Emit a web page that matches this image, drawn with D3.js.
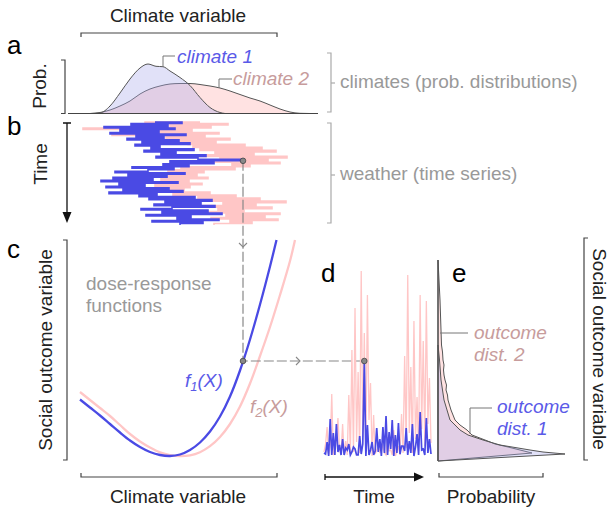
<!DOCTYPE html>
<html>
<head>
<meta charset="utf-8">
<script src="https://cdn.jsdelivr.net/npm/d3@7"></script>
<style>
body { margin:0; background:#fff; }
text { font-family:'Liberation Sans', Arial, Helvetica, sans-serif; }
</style>
</head>
<body>
<svg id="chart" width="611" height="510"></svg>
<script>
// ---- data (arbitrary units) ----

// a: climate distributions (climate variable -> probability)
var clim1X = [1, 2, 3, 4, 5, 6, 6.8, 7.6, 8.3, 9, 10, 11, 12, 13, 14, 14.5]
var clim1P = [0, 0.05, 0.75, 2.05, 3.45, 4.55, 4.95, 4.72, 4.68, 4.25, 3.6, 2.8, 1.6, 0.6, 0.1, 0]
var clim2X = [1, 2, 3, 4, 5, 6, 7, 8, 9, 10, 11, 12, 13, 14, 15, 16, 17, 18, 19, 20, 21, 22, 23]
var clim2P = [0, 0.1, 0.35, 0.75, 1.25, 1.95, 2.45, 2.75, 2.95, 3.0, 3.0, 2.9, 2.75, 2.55, 2.25, 1.9, 1.55, 1.25, 0.85, 0.45, 0.15, 0.02, 0]

// b: weather time series (climate variable at each time step)
var weather1 = [7.5, 10.2, 5.1, 8.8, 2.4, 9.5, 4.0, 7.9, 3.0, 10.6,
	5.6, 8.4, 4.7, 9.9, 6.2, 11.0, 5.5, 8.0, 7.1, 11.4,
	6.4, 9.6, 8.1, 12.6, 7.6, 11.8, 16.3, 9.0, 13.4, 8.3,
	10.9, 5.2, 9.4, 6.8, 3.5, 10.5, 4.8, 8.7, 3.3, 7.3,
	2.1, 9.8, 3.9, 6.5, 2.6, 8.9, 4.3, 10.3, 2.9, 7.7,
	5.9, 11.5, 6.9, 13.2, 8.5, 12.1, 7.4, 13.5, 9.2, 6.1,
	12.8, 8.2, 14.2, 6.6, 11.1, 9.7, 13.9, 7.2, 12.3, 10.0]
var weather2 = [12.0, 6.5, 14.8, 9.0, 13.1, 0.3, 11.2, 7.8, 13.9, 3.2,
	12.5, 8.6, 15.0, 9.4, 13.6, 10.8, 16.5, 11.3, 18.2, 12.0,
	19.6, 13.5, 17.4, 11.6, 20.7, 14.0, 18.8, 12.9, 20.0, 15.2,
	17.0, 10.1, 15.5, 8.8, 12.4, 7.0, 11.7, 6.3, 12.8, 8.1,
	10.9, 5.4, 12.2, 7.5, 11.0, 4.6, 10.4, 8.0, 13.0, 9.3,
	15.6, 11.8, 18.0, 12.7, 20.6, 14.3, 17.6, 11.9, 19.2, 13.8,
	16.4, 12.2, 20.0, 14.6, 18.5, 13.1, 19.8, 15.0, 17.2, 13.4]
var markedStep = 26

// c: dose-response functions (climate variable -> outcome)
var f1X = [0, 1, 2, 3, 4, 5, 6, 7, 8, 9, 10, 11, 12, 13, 14, 15, 16, 17, 18, 19, 19.65]
var f1Y = [5.65, 4.85, 4.05, 3.2, 2.35, 1.55, 0.9, 0.4, 0.1, 0, 0.15, 0.6, 1.35, 2.45, 3.95, 5.95, 8.55, 11.65, 15.15, 18.95, 21.6]
var f2X = [0, 1, 2, 3, 4, 5, 6, 7, 8, 9, 10, 11, 12, 13, 14, 15, 16, 17, 18, 19, 20, 21, 21.5]
var f2Y = [6.4, 5.6, 4.8, 4.0, 3.1, 2.2, 1.45, 0.85, 0.37, 0.09, 0, 0.07, 0.38, 0.98, 1.9, 3.2, 4.95, 7.25, 10.0, 12.9, 16.1, 19.5, 21.6]

// d: outcome time series
var outcome1 = [0.3, 0.2, 1.4, 0.0, 3.7, 0.1, 2.3, 0.1, 3.2, 0.4,
	1.1, 0.1, 1.7, 0.1, 0.8, 0.6, 1.2, 0.1, 0.4, 0.9,
	0.7, 0.1, 0.1, 2.0, 0.2, 1.2, 9.5, 0.0, 3.1, 0.1,
	0.6, 1.4, 0.1, 0.5, 2.8, 0.4, 1.7, 0.0, 2.9, 0.3,
	4.0, 0.1, 2.4, 0.7, 3.6, 0.0, 2.1, 0.3, 3.3, 0.2,
	1.0, 1.0, 0.5, 2.8, 0.1, 1.5, 0.3, 3.2, 0.0, 0.9,
	2.2, 0.1, 4.4, 0.6, 0.7, 0.1, 3.8, 0.3, 1.7, 0.2]
var outcome2 = [0.4, 1.2, 2.9, 0.1, 1.0, 6.2, 0.1, 0.5, 1.8, 3.8,
	0.7, 0.2, 3.2, 0.1, 1.5, 0.1, 6.1, 0.2, 10.6, 0.4,
	14.8, 1.4, 8.4, 0.3, 18.5, 1.9, 12.3, 0.9, 16.1, 3.6,
	7.3, 0.0, 4.1, 0.2, 0.6, 0.9, 0.3, 1.3, 0.8, 0.3,
	0.1, 1.9, 0.5, 0.6, 0.1, 2.6, 0.0, 0.4, 1.0, 0.1,
	4.2, 0.3, 10.0, 0.8, 18.1, 2.3, 8.9, 0.3, 13.5, 1.7,
	5.9, 0.5, 16.1, 2.7, 11.5, 1.0, 15.5, 3.2, 7.8, 1.3]

// e: outcome distributions (outcome -> probability)
var dist1Out = [-0.5, -0.1, 0.2, 0.4, 0.6, 1.1, 1.6, 2.1, 2.6, 3.6, 5.6, 7.6, 9.6, 11.1]
var dist1P = [0, 7.2, 12.7, 10.5, 9.2, 6.2, 4.5, 3.0, 2.2, 1.2, 0.6, 0.3, 0.15, 0]
var dist2Out = [-0.5, -0.1, 0.3, 0.6, 0.9, 1.2, 1.6, 2.1, 2.6, 3.1, 3.6, 4.1, 4.6, 5.1, 5.6, 6.1, 6.6, 7.1, 7.6, 8.1, 8.6, 9.1, 9.6, 10.4, 11.1, 12.6, 14.1, 15.6, 17.6, 19.6]
var dist2P = [0, 4.7, 9.4, 8.2, 7.0, 5.7, 4.7, 3.4, 2.9, 2.2, 1.7, 1.5, 1.3, 1.15, 1.0, 0.95, 0.8, 0.85, 0.7, 0.6, 0.55, 0.6, 0.5, 0.45, 0.35, 0.3, 0.25, 0.2, 0.1, 0]

// ---- colours ----
var blue = '#4a4ae4', pink = '#ffc6c6'
var blueText = '#5a5ae8', pinkText = '#c79c9c', grayText = '#999', dark = '#444'

var svg = d3.select('#chart')

// ---- scales ----
var xClim = d3.scaleLinear().domain([0, 23]).range([80, 310])
var yProb = d3.scaleLinear().domain([0, 5]).range([113.5, 63.5])
var yTime = d3.scaleLinear().domain([0, weather1.length - 1]).range([122, 225])
var yOut = d3.scaleLinear().domain([0, 21.6]).range([456, 240])
var xTime = d3.scaleLinear().domain([0, outcome1.length - 1]).range([324, 431])
var xDens = d3.scaleLinear().domain([0, 13]).range([438, 568])

var zip = function(a, b) { return a.map(function(v, i) { return [v, b[i]] }) }

function txt(x, y, s, opts) {
	opts = opts || {}
	var t = svg.append('text').attr('x', x).attr('y', y).text(s)
		.style('font-size', (opts.size || 19) + 'px')
		.attr('fill', opts.fill || '#222')
		.attr('text-anchor', opts.anchor || 'start')
	if(opts.italic) t.style('font-style', 'italic')
	if(opts.rotate) t.attr('x', 0).attr('y', 0).attr('transform', 'translate(' + x + ',' + y + ') rotate(' + opts.rotate + ')')
	return t
}

function line(d, color, w, dash) {
	var p = svg.append('path').attr('d', d).attr('fill', 'none')
		.attr('stroke', color || dark).attr('stroke-width', w || 1.2)
	if(dash) p.attr('stroke-dasharray', dash)
	return p
}

// horizontal bracket with end ticks
function hBracket(y, x1, x2, dir) {
	line('M' + x1 + ',' + (y + 4 * dir) + 'V' + y + 'H' + x2 + 'V' + (y + 4 * dir))
}
// vertical bracket with end ticks
function vBracket(x, y1, y2, dir, color, mid) {
	line('M' + (x + 4 * dir) + ',' + y1 + 'H' + x + 'V' + y2 + 'H' + (x + 4 * dir), color)
	if(mid) line('M' + x + ',' + mid + 'h4', color)
}

// ---- panel a ----
txt(178, 22, 'Climate variable', {anchor: 'middle'})
hBracket(33, 81, 277, 1)
txt(7, 54, 'a', {size: 26, fill: '#000'})
txt(46, 86, 'Prob.', {anchor: 'middle', rotate: -90})
vBracket(65, 60, 113.5, -1)

var areaClim = d3.area().curve(d3.curveMonotoneX)
	.x(function(d) { return xClim(d[0]) })
	.y0(yProb(0)).y1(function(d) { return yProb(d[1]) })
svg.append('path').datum(zip(clim2X, clim2P)).attr('d', areaClim)
	.attr('fill', 'rgba(255,180,180,0.38)').attr('stroke', '#555').attr('stroke-width', 1)
svg.append('path').datum(zip(clim1X, clim1P)).attr('d', areaClim)
	.attr('fill', 'rgba(170,170,235,0.35)').attr('stroke', '#555').attr('stroke-width', 1)
line('M68,113.5H318', dark, 1.2)

line('M163,67V56H175', '#777', 1)
txt(177, 63, 'climate 1', {italic: true, fill: blueText})
line('M219,88V79H232', '#777', 1)
txt(233, 85, 'climate 2', {italic: true, fill: pinkText})

vBracket(331, 53, 112, -1, '#aaa', 83)
txt(340, 88, 'climates (prob. distributions)', {fill: grayText})

// ---- panel b ----
txt(7, 135, 'b', {size: 26, fill: '#000'})
txt(47, 164, 'Time', {anchor: 'middle', rotate: -90})
line('M63,123H71M67,123V214', '#111', 1.3)
svg.append('path').attr('d', 'M62.5,212L71.5,212L67,223Z').attr('fill', '#111')

var weatherLine = d3.line().curve(d3.curveStepAfter)
	.x(function(d) { return xClim(d) })
	.y(function(d, i) { return yTime(i) })
svg.append('path').datum(weather2).attr('d', weatherLine)
	.attr('fill', 'none').attr('stroke', pink).attr('stroke-width', 1.6)
svg.append('path').datum(weather1).attr('d', weatherLine)
	.attr('fill', 'none').attr('stroke', blue).attr('stroke-width', 1.6)

vBracket(331, 123, 223, -1, '#aaa', 175)
txt(340, 180, 'weather (time series)', {fill: grayText})

// ---- panel c ----
txt(7, 258, 'c', {size: 26, fill: '#000'})
txt(52, 350, 'Social outcome variable', {anchor: 'middle', rotate: -90})
vBracket(67, 240, 460, -1)

var doseLine = d3.line().curve(d3.curveCatmullRom)
	.x(function(d) { return xClim(d[0]) })
	.y(function(d) { return yOut(d[1]) })
svg.append('path').datum(zip(f2X, f2Y)).attr('d', doseLine)
	.attr('fill', 'none').attr('stroke', pink).attr('stroke-width', 2.3)
svg.append('path').datum(zip(f1X, f1Y)).attr('d', doseLine)
	.attr('fill', 'none').attr('stroke', blue).attr('stroke-width', 2.3)

txt(86, 290, 'dose-response', {fill: grayText})
txt(86, 312, 'functions', {fill: grayText})

var l1 = txt(185, 387, 'f', {italic: true, fill: blueText})
l1.append('tspan').attr('dy', 4).style('font-size', '13px').text('1')
l1.append('tspan').attr('dy', -4).text('(X)')
var l2 = txt(250, 413, 'f', {italic: true, fill: pinkText})
l2.append('tspan').attr('dy', 4).style('font-size', '13px').text('2')
l2.append('tspan').attr('dy', -4).text('(X)')

hBracket(477, 81, 277, -1)
txt(178, 503, 'Climate variable', {anchor: 'middle'})

// ---- link from weather -> dose response -> outcome ----
var px = xClim(weather1[markedStep]), py = yTime(markedStep)
var oy = yOut(outcome1[markedStep]), ox = xTime(markedStep)
line('M' + px + ',' + py + 'V' + oy + 'H' + ox, '#888', 1.2, '10,3')
line('M' + (px - 4) + ',243l4,4l4,-4', '#888', 1.1)
line('M296,' + (oy - 4) + 'l4,4l-4,4', '#888', 1.1)

// ---- panel d ----
txt(321, 282, 'd', {size: 26, fill: '#000'})
var outLine = d3.line()
	.x(function(d, i) { return xTime(i) })
	.y(function(d) { return yOut(d) })
svg.append('path').datum(outcome2).attr('d', outLine)
	.attr('fill', 'none').attr('stroke', pink).attr('stroke-width', 1.3)
svg.append('path').datum(outcome1).attr('d', outLine)
	.attr('fill', 'none').attr('stroke', blue).attr('stroke-width', 1.7)

;[[px, py], [px, oy], [ox, oy]].forEach(function(p) {
	svg.append('circle').attr('cx', p[0]).attr('cy', p[1]).attr('r', 2.8)
		.attr('fill', '#888').attr('stroke', '#444').attr('stroke-width', 0.8)
})

line('M325,474V480M325,477H416', '#111', 1.3)
svg.append('path').attr('d', 'M414,472.5L424,477L414,481.5Z').attr('fill', '#111')
txt(374, 503, 'Time', {anchor: 'middle'})

// ---- panel e ----
txt(452, 282, 'e', {size: 26, fill: '#000'})
var distArea = d3.area()
	.y(function(d) { return yOut(d[0]) })
	.x0(xDens(0)).x1(function(d) { return xDens(d[1]) })
svg.append('path').datum(zip(dist2Out, dist2P)).attr('d', distArea)
	.attr('fill', 'rgba(255,180,180,0.38)').attr('stroke', '#555').attr('stroke-width', 1)
svg.append('path').datum(zip(dist1Out, dist1P)).attr('d', distArea)
	.attr('fill', 'rgba(170,170,235,0.35)').attr('stroke', '#555').attr('stroke-width', 1)
line('M' + xDens(0) + ',' + yOut(19.6) + 'V' + yOut(-0.5), '#555', 1.3)

line('M440,333H468', '#777', 1)
txt(474, 339, 'outcome', {italic: true, fill: pinkText})
txt(474, 361, 'dist. 2', {italic: true, fill: pinkText})
line('M470,434V408H492', '#777', 1)
txt(497, 413, 'outcome', {italic: true, fill: blueText})
txt(497, 435, 'dist. 1', {italic: true, fill: blueText})

hBracket(477, 439, 543, -1)
txt(491, 503, 'Probability', {anchor: 'middle'})

vBracket(584, 238, 460, 1)
txt(593, 349, 'Social outcome variable', {anchor: 'middle', rotate: 90})
</script>
</body>
</html>
